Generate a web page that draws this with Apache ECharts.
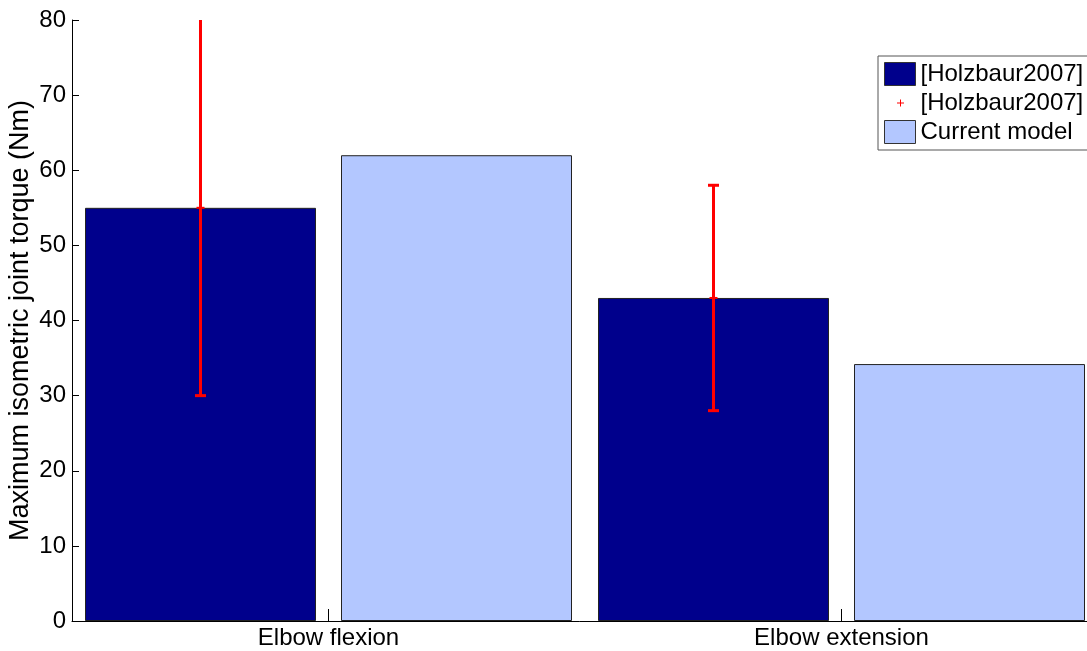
<!DOCTYPE html>
<html>
<head>
<meta charset="utf-8">
<script src="https://cdn.jsdelivr.net/npm/echarts@6/dist/echarts.min.js"></script>
<style>
html,body{margin:0;padding:0;background:#fff;}
#chart{width:1087px;height:651px;}
</style>
</head>
<body>
<div id="chart"></div>
<script>
// ---- data ----
const categories = ['Elbow flexion', 'Elbow extension'];
const holzbaurMean = [55, 43];
const holzbaurLow = [30, 28];
const holzbaurHigh = [80, 58];
const currentModel = [62, 34.2];
const yTicks = [0, 10, 20, 30, 40, 50, 60, 70, 80];

const seriesNames = ['[Holzbaur2007]', '[Holzbaur2007]\u200b', 'Current model'];

// ---- layout / style ----
const BAR_W = 231;
const BAR_GAP_PX = 25;
const DARK = '#00008C';
const LIGHT = '#B3C7FF';
const FONT = 'Liberation Sans, Arial, sans-serif';

const errData = categories.map((c, i) => [i, holzbaurLow[i], holzbaurHigh[i], holzbaurMean[i]]);

const plusIcon = 'path://M0,0 M31,23 M12.5,11L19.5,11L19.5,12L12.5,12Z M15.5,8L16.5,8L16.5,15L15.5,15Z';

const chart = echarts.init(document.getElementById('chart'), null, {renderer: 'canvas'});
chart.setOption({
  animation: false,
  backgroundColor: '#fff',
  textStyle: {fontFamily: FONT},
  grid: {left: 72, right: -11, top: 20, bottom: 30, containLabel: false, outerBoundsMode: 'none'},
  legend: {
    orient: 'vertical',
    left: 878, top: 56,
    padding: [6, 6, 6, 6],
    itemGap: 5,
    itemWidth: 31, itemHeight: 23,
    backgroundColor: '#fff',
    borderColor: '#555',
    borderWidth: 1,
    borderRadius: 0,
    textStyle: {fontSize: 24, color: '#000', fontFamily: FONT, lineHeight: 24, padding: [0, 0, 0, 0]},
    data: [
      {name: seriesNames[0], icon: 'rect', itemStyle: {color: DARK, borderColor: '#333', borderWidth: 1}},
      {name: seriesNames[1], icon: plusIcon, itemStyle: {color: '#ff0000', borderWidth: 0}},
      {name: seriesNames[2], icon: 'rect', itemStyle: {color: LIGHT, borderColor: '#333', borderWidth: 1}}
    ],
    formatter: function (n) { return n.replace('\u200b', ''); }
  },
  xAxis: {
    type: 'category',
    data: categories,
    boundaryGap: true,
    axisLine: {show: true, lineStyle: {color: '#000', width: 1}},
    axisTick: {show: true, alignWithLabel: true, inside: true, length: 12, lineStyle: {color: '#000'}},
    axisLabel: {fontSize: 24, color: '#000', margin: 5, fontFamily: FONT},
    splitLine: {show: false}
  },
  yAxis: {
    type: 'value',
    min: yTicks[0], max: yTicks[yTicks.length - 1], interval: yTicks[1] - yTicks[0],
    name: 'Maximum isometric joint torque (Nm)',
    nameLocation: 'middle',
    nameGap: 38,
    nameMoveOverlap: false,
    nameTextStyle: {fontSize: 27, color: '#000', fontFamily: FONT},
    axisLine: {show: true, lineStyle: {color: '#000', width: 1}},
    axisTick: {show: true, inside: true, length: 7, lineStyle: {color: '#000'}},
    axisLabel: {fontSize: 24, color: '#000', margin: 6, fontFamily: FONT},
    splitLine: {show: false}
  },
  series: [
    {
      name: seriesNames[0],
      type: 'bar',
      data: holzbaurMean,
      barWidth: BAR_W,
      barGap: (BAR_GAP_PX / BAR_W * 100) + '%',
      itemStyle: {color: DARK, borderColor: '#222', borderWidth: 1}
    },
    {
      name: seriesNames[2],
      type: 'bar',
      data: currentModel,
      barWidth: BAR_W,
      barGap: (BAR_GAP_PX / BAR_W * 100) + '%',
      itemStyle: {color: LIGHT, borderColor: '#222', borderWidth: 1}
    },
    {
      name: seriesNames[1],
      type: 'custom',
      data: errData,
      encode: {x: 0, y: [1, 2, 3]},
      clip: true,
      z: 10,
      itemStyle: {color: '#ff0000'},
      renderItem: function (params, api) {
        const idx = api.value(0);
        const offset = -(BAR_W + BAR_GAP_PX) / 2;
        const pLow = api.coord([idx, api.value(1)]);
        const pHigh = api.coord([idx, api.value(2)]);
        const pMean = api.coord([idx, api.value(3)]);
        const x = Math.round(pLow[0] + offset) - 0.5;
        const cap = 5.5, plus = 4;
        const st = {stroke: '#ff0000', lineWidth: 3};
        const top = params.coordSys.y;
        const children = [
          {type: 'line', shape: {x1: x, y1: pLow[1], x2: x, y2: pHigh[1]}, style: st},
          {type: 'line', shape: {x1: x - cap, y1: pLow[1], x2: x + cap, y2: pLow[1]}, style: st},
          {type: 'line', shape: {x1: x - plus, y1: pMean[1], x2: x + plus, y2: pMean[1]}, style: {stroke: '#ff0000', lineWidth: 2}}
        ];
        if (pHigh[1] > top + 1) {
          children.push({type: 'line', shape: {x1: x - cap, y1: pHigh[1], x2: x + cap, y2: pHigh[1]}, style: st});
        }
        return {type: 'group', children: children};
      }
    }
  ]
});
</script>
</body>
</html>
